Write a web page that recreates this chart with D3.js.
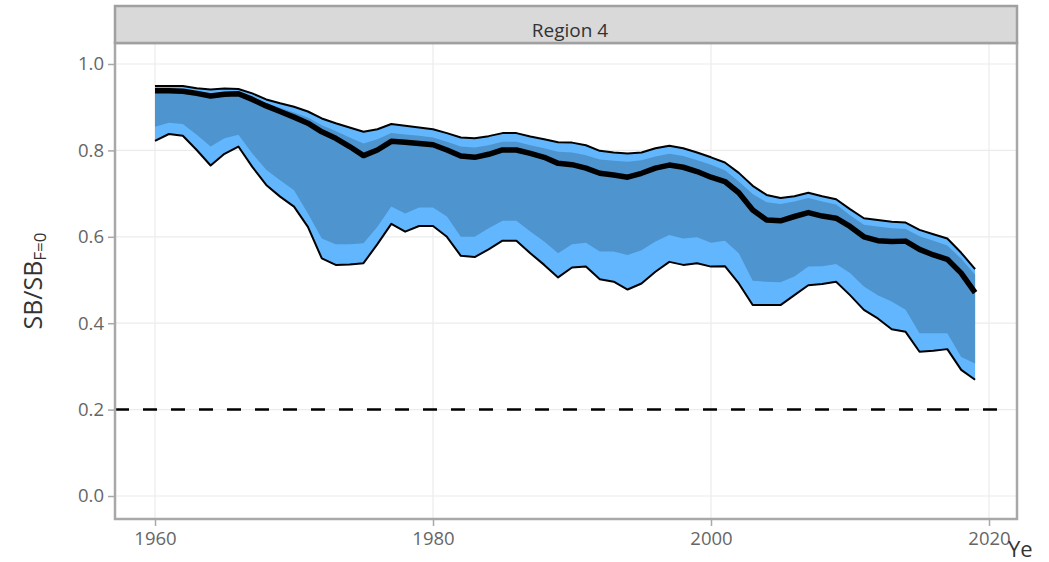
<!DOCTYPE html>
<html>
<head>
<meta charset="utf-8">
<script src="https://cdn.jsdelivr.net/npm/d3@7"></script>
<style>
html,body{margin:0;padding:0;background:#fff;}
svg{display:block;font-family:"Open Sans","DejaVu Sans",sans-serif;}
</style>
</head>
<body>
<svg id="chart" width="1049" height="562"></svg>
<script>
// ---- data ----
const years = d3.range(1960, 2020);
const outerUpper = [0.949,0.949,0.949,0.944,0.941,0.943,0.942,0.932,0.918,0.909,0.901,0.890,0.874,0.863,0.853,0.843,0.849,0.861,0.857,0.853,0.849,0.840,0.830,0.828,0.833,0.840,0.840,0.832,0.826,0.819,0.818,0.812,0.799,0.795,0.793,0.795,0.805,0.811,0.805,0.795,0.784,0.772,0.748,0.718,0.697,0.690,0.694,0.702,0.694,0.687,0.664,0.643,0.639,0.635,0.633,0.616,0.606,0.596,0.563,0.525];
const innerUpper = [0.941,0.941,0.940,0.935,0.930,0.934,0.935,0.923,0.910,0.899,0.888,0.876,0.858,0.845,0.830,0.816,0.826,0.840,0.837,0.834,0.830,0.820,0.809,0.807,0.812,0.820,0.820,0.812,0.805,0.797,0.795,0.789,0.779,0.776,0.774,0.777,0.786,0.792,0.787,0.777,0.767,0.754,0.728,0.699,0.680,0.676,0.682,0.690,0.682,0.675,0.650,0.628,0.624,0.620,0.618,0.601,0.591,0.580,0.549,0.512];
const median = [0.938,0.938,0.937,0.932,0.926,0.930,0.931,0.918,0.903,0.890,0.877,0.863,0.843,0.828,0.809,0.788,0.801,0.821,0.819,0.816,0.813,0.801,0.787,0.784,0.791,0.801,0.801,0.793,0.784,0.770,0.767,0.759,0.747,0.743,0.738,0.747,0.759,0.766,0.761,0.751,0.738,0.728,0.702,0.662,0.639,0.637,0.647,0.656,0.648,0.643,0.624,0.600,0.591,0.589,0.590,0.571,0.558,0.548,0.516,0.471];
const innerLower = [0.855,0.864,0.861,0.836,0.809,0.828,0.836,0.793,0.755,0.731,0.708,0.654,0.596,0.583,0.583,0.585,0.623,0.670,0.654,0.668,0.668,0.647,0.600,0.600,0.620,0.637,0.637,0.612,0.589,0.562,0.583,0.586,0.566,0.566,0.558,0.569,0.589,0.604,0.596,0.599,0.586,0.591,0.562,0.498,0.496,0.495,0.508,0.531,0.532,0.537,0.516,0.485,0.465,0.450,0.431,0.377,0.377,0.377,0.322,0.307];
const outerLower = [0.822,0.838,0.834,0.801,0.765,0.792,0.809,0.762,0.720,0.693,0.670,0.623,0.550,0.535,0.536,0.539,0.583,0.630,0.612,0.625,0.625,0.600,0.556,0.553,0.571,0.591,0.591,0.562,0.535,0.506,0.529,0.531,0.502,0.496,0.478,0.492,0.519,0.542,0.535,0.539,0.531,0.532,0.492,0.442,0.442,0.442,0.465,0.488,0.491,0.496,0.465,0.431,0.411,0.386,0.380,0.334,0.336,0.340,0.292,0.269];
const refLevel = 0.2;
const xTicks = [1960, 1980, 2000, 2020];
const yTicks = [0, 0.2, 0.4, 0.6, 0.8, 1.0];
const panelLabel = "Region 4";

// ---- layout ----
const svg = d3.select("#chart");
const L = 115, R = 1017, T = 43, B = 519, stripTop = 6;
const x = d3.scaleLinear().domain([1957.122, 2022.014]).range([L, R]);
const y = d3.scaleLinear().domain([-0.0532, 1.0486]).range([B, T]);

const rows = years.map((yr, i) => ({yr, ou: outerUpper[i], iu: innerUpper[i], m: median[i], il: innerLower[i], ol: outerLower[i]}));

// panel background
svg.append("rect").attr("x", L).attr("y", T).attr("width", R - L).attr("height", B - T).attr("fill", "#fff");

// grid
svg.append("g").selectAll("line").data(xTicks).join("line")
  .attr("x1", d => x(d)).attr("x2", d => x(d)).attr("y1", T).attr("y2", B)
  .attr("stroke", "#ebebeb").attr("stroke-width", 1.2);
svg.append("g").selectAll("line").data(yTicks).join("line")
  .attr("x1", L).attr("x2", R).attr("y1", d => y(d)).attr("y2", d => y(d))
  .attr("stroke", "#ebebeb").attr("stroke-width", 1.2);

svg.append("clipPath").attr("id", "pclip").append("rect")
  .attr("x", L).attr("y", T).attr("width", R - L).attr("height", B - T);
const plot = svg.append("g").attr("clip-path", "url(#pclip)");

// outer band
plot.append("path").datum(rows)
  .attr("d", d3.area().x(d => x(d.yr)).y0(d => y(d.ol)).y1(d => y(d.ou)))
  .attr("fill", "#61b6fd");
// inner band
plot.append("path").datum(rows)
  .attr("d", d3.area().x(d => x(d.yr)).y0(d => y(d.il)).y1(d => y(d.iu)))
  .attr("fill", "#4e94ce");
// outlines
const lineOf = k => d3.line().x(d => x(d.yr)).y(d => y(d[k]));
plot.append("path").datum(rows).attr("d", lineOf("ou"))
  .attr("fill", "none").attr("stroke", "#000").attr("stroke-width", 2).attr("stroke-linejoin", "round");
plot.append("path").datum(rows).attr("d", lineOf("ol"))
  .attr("fill", "none").attr("stroke", "#000").attr("stroke-width", 2).attr("stroke-linejoin", "round");
plot.append("path").datum(rows).attr("d", lineOf("m"))
  .attr("fill", "none").attr("stroke", "#000").attr("stroke-width", 5.5).attr("stroke-linejoin", "round");

// reference dashed line
plot.append("line")
  .attr("x1", x(1957.122)).attr("x2", x(2021.2))
  .attr("y1", y(refLevel)).attr("y2", y(refLevel))
  .attr("stroke", "#000").attr("stroke-width", 2.5).attr("stroke-dasharray", "14,14");

// panel border
svg.append("rect").attr("x", L).attr("y", T).attr("width", R - L).attr("height", B - T)
  .attr("fill", "none").attr("stroke", "#a8a8a8").attr("stroke-width", 2.5);

// strip
svg.append("rect").attr("x", L).attr("y", stripTop).attr("width", R - L).attr("height", T - stripTop)
  .attr("fill", "#d9d9d9").attr("stroke", "#a0a0a0").attr("stroke-width", 2.5);
svg.append("text").attr("x", (L + R) / 2 + 4).attr("y", 37)
  .attr("text-anchor", "middle").attr("font-size", 19).attr("fill", "#333").text(panelLabel);

// axes
const xAxis = svg.append("g").attr("transform", `translate(0,${B})`)
  .call(d3.axisBottom(x).tickValues(xTicks).tickFormat(d3.format("d")).tickSize(7).tickPadding(6));
const yAxis = svg.append("g").attr("transform", `translate(${L},0)`)
  .call(d3.axisLeft(y).tickValues(yTicks).tickFormat(d3.format(".1f")).tickSize(7).tickPadding(4));
[xAxis, yAxis].forEach(a => {
  a.select(".domain").remove();
  a.selectAll(".tick line").attr("stroke", "#a8a8a8").attr("stroke-width", 1.5);
  a.selectAll(".tick text").attr("fill", "#666").attr("font-size", 18.5)
    .attr("font-family", '"Open Sans","DejaVu Sans",sans-serif');
});

// y title
const yt = svg.append("text").attr("transform", `translate(42,${(T + B) / 2}) rotate(-90)`)
  .attr("text-anchor", "middle").attr("fill", "#333").attr("font-size", 25);
yt.append("tspan").text("SB/SB");
yt.append("tspan").attr("font-size", 17).attr("dy", 4).text("F=0");

// x title (only the visible part, as in the reference)
svg.append("text")
  .attr("x", 1008).attr("y", 557).attr("fill", "#333").attr("font-size", 22).text("Ye");
</script>
</body>
</html>
